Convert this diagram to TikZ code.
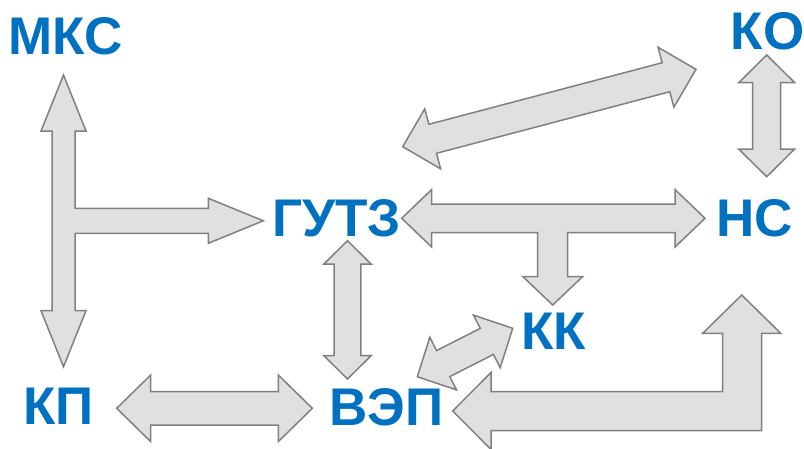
\documentclass[tikz,border=0pt]{standalone}
\usepackage{fontspec}
\setmainfont{Liberation Sans}
\definecolor{lblue}{RGB}{0,112,192}
\definecolor{afill}{RGB}{224,224,224}
\definecolor{aline}{RGB}{128,128,128}
\tikzset{
  lbl/.style={text=lblue, font=\fontsize{53}{60}\selectfont\bfseries, inner sep=0pt, anchor=center},
  blockarrow/.style={draw=aline, fill=afill, line width=1.5pt, line join=miter}
}
% start x, start y, angle, length, half shaft, half head, head length
\newcommand\dblarrow[7]{%
  \draw[blockarrow, shift={(#1,#2)}, rotate=#3] (0,0) -- (#7,#6) -- (#7,#5) -- ({#4-#7},#5) -- ({#4-#7},#6) -- (#4,0) -- ({#4-#7},-#6) -- ({#4-#7},-#5) -- (#7,-#5) -- (#7,-#6) -- cycle;}
\begin{document}
\begin{tikzpicture}[x=1pt,y=-1pt]
\useasboundingbox (0,0) rectangle (804,448);
% labels
\node[lbl] (mks)  at (65.8,36)   {МКС};
\node[lbl] (kp)   at (58.7,406.7) {КП};
\node[lbl] (gutz) at (336.7,218.3) {ГУТЗ};
\node[lbl] (ns)   at (754.5,218) {НС};
\node[lbl] (ko)   at (767.5,31.7) {КО};
\node[lbl] (kk)   at (554,331)   {КК};
\node[lbl] (vep)  at (386.7,407.5) {ВЭП};
% T arrow MKS / KP / GUTZ
\draw[blockarrow] (63.5,75) -- (86,131) -- (75,131) -- (75,208.3) -- (208.3,208.3) -- (208.3,198.3) -- (263.3,220.8) -- (208.3,243.3) -- (208.3,233.3) -- (75,233.3) -- (75,310.7) -- (86,310.7) -- (63.5,366.7) -- (41,310.7) -- (52,310.7) -- (52,131) -- (41,131) -- cycle;
% KP <-> VEP
\dblarrow{116.7}{408.3}{0}{195.6}{16.7}{33.3}{34}
% GUTZ <-> VEP
\dblarrow{347.5}{240.7}{-90}{138.3}{13.3}{23.8}{23.5}
% GUTZ <-> KO (diagonal)
\dblarrow{402.7}{146.7}{14.78}{303.3}{15}{31}{31}
% KO <-> NS
\dblarrow{766.7}{55}{-90}{121.7}{14}{28}{27.7}
% VEP <-> KK (diagonal)
\dblarrow{417.3}{376.7}{26.9}{107}{14.6}{29.5}{29}
% T arrow GUTZ <-> NS, down to KK
\draw[blockarrow] (401.7,218.3) -- (431.7,189.5) -- (431.7,204) -- (675,204) -- (675,189.5) -- (705,218.3) -- (675,247) -- (675,232.5) -- (567.7,232.5) -- (567.7,276.7) -- (582.5,276.7) -- (552.7,305) -- (523,276.7) -- (537.7,276.7) -- (537.7,232.5) -- (431.7,232.5) -- (431.7,247) -- cycle;
% elbow NS -> VEP
\draw[blockarrow] (452.7,411) -- (491,372.5) -- (491,391.7) -- (722.7,391.7) -- (722.7,333.3) -- (702.7,333.3) -- (741.7,295) -- (780.7,333.3) -- (761.7,333.3) -- (761.7,430.7) -- (491,430.7) -- (491,449.5) -- cycle;
\end{tikzpicture}
\end{document}
